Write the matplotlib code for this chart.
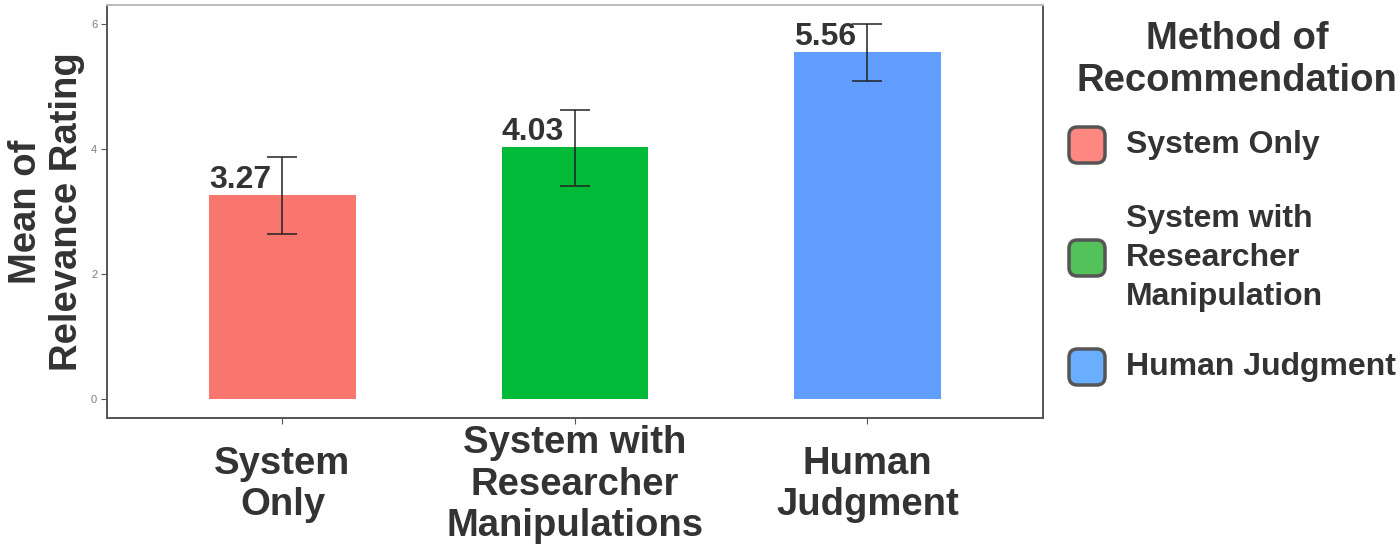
"""
Mean relevance rating by method of recommendation (bar + error bars).
"""

import numpy as np
import matplotlib.pyplot as plt
from matplotlib.patches import FancyBboxPatch

plt.rcParams["font.family"] = ["Liberation Sans", "DejaVu Sans"]

# --- data ---
tick_labels = ["System\nOnly", "System with\nResearcher\nManipulations", "Human\nJudgment"]
legend_labels = ["System Only", "System with\nResearcher\nManipulation", "Human Judgment"]
means = [3.27, 4.03, 5.56]
err_low = [2.64, 3.42, 5.09]
err_high = [3.88, 4.63, 6.01]
bar_colors = ["#F8766D", "#00BA38", "#619CFF"]
key_colors = ["#FF8882", "#53C25A", "#6AAEFF"]
yticks = [0, 2, 4, 6]

TXT = "#333333"

fig = plt.figure(figsize=(14, 5.6), dpi=100)
ax = fig.add_axes([0.0764, 0.2536, 0.6686, 0.7375])

x = np.arange(1, len(means) + 1)
ax.bar(x, means, width=0.5, color=bar_colors, zorder=2)

means_arr = np.array(means)
yerr = [means_arr - np.array(err_low), np.array(err_high) - means_arr]
ax.errorbar(x, means, yerr=yerr, fmt="none", ecolor="#222222",
            elinewidth=1.1, capsize=10.5, capthick=1.1, zorder=3)

for xi, m in zip(x, means):
    ax.text(xi - 0.25, m, f"{m:.2f}", ha="left", va="bottom",
            fontsize=23, fontweight="bold", color=TXT, zorder=4)

ax.set_xlim(0.4, 3.6)
ax.set_ylim(-0.3, 6.31)
ax.set_yticks(yticks)
ax.set_yticklabels([str(t) for t in yticks], fontsize=8, color="#7a7f8a")
ax.set_xticks(x)
ax.set_xticklabels(tick_labels, fontsize=27.5, fontweight="bold", color=TXT,
                   linespacing=1.2, va="center")
ax.tick_params(axis="x", length=4, color="#555555", pad=44)
ax.tick_params(axis="y", length=4, color="#555555", pad=3)

for side in ["left", "bottom", "right"]:
    ax.spines[side].set_color("#555555")
    ax.spines[side].set_linewidth(1.4)
ax.spines["top"].set_color("#bbbbbb")
ax.spines["top"].set_linewidth(1.4)

ax.set_ylabel("Mean of\nRelevance Rating", fontsize=27.5, fontweight="bold",
              color=TXT, linespacing=1.2, labelpad=4)

# legend drawn by hand so keys look like the rounded ggplot boxes
fig.text(1237 / 1400, 1 - 60 / 560, "Method of\nRecommendation", ha="center",
         va="center", fontsize=27.5, fontweight="bold", color=TXT, linespacing=1.2)
key_y = [145, 258, 367]
for lab, col, yc in zip(legend_labels, key_colors, key_y):
    w, h = 36 / 1400, 36 / 560
    box = FancyBboxPatch((1069 / 1400, 1 - yc / 560 - h / 2), w, h,
                         boxstyle="round,pad=0,rounding_size=0.006",
                         transform=fig.transFigure, facecolor=col,
                         edgecolor="#555555", linewidth=2.5,
                         mutation_aspect=2.5)
    fig.patches.append(box)
    fig.text(1126 / 1400, 1 - yc / 560, lab, ha="left", va="center",
             fontsize=23, fontweight="bold", color=TXT, linespacing=1.38)

plt.savefig("out.png", dpi=100)
